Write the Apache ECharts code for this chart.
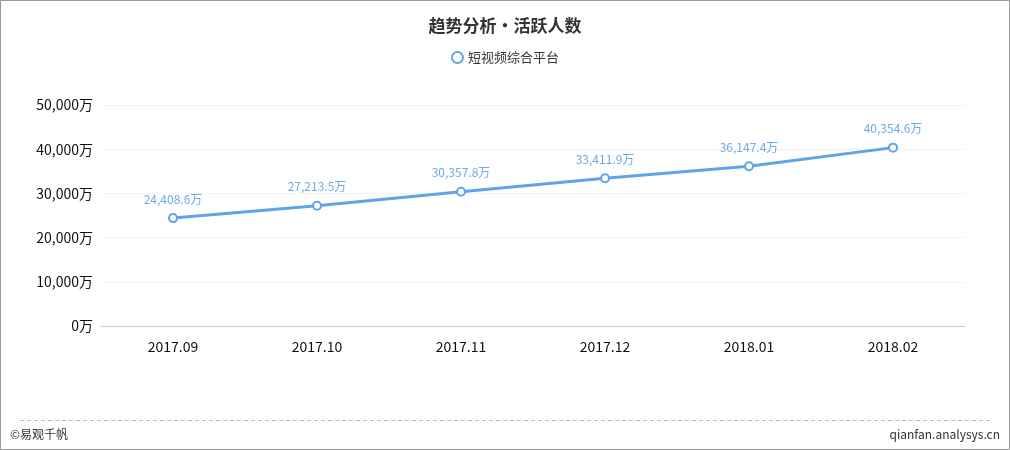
<!DOCTYPE html>
<html>
<head>
<meta charset="utf-8">
<script src="https://cdn.jsdelivr.net/npm/echarts@6/dist/echarts.min.js"></script>
<style>
  html, body { margin: 0; padding: 0; background: #fff; }
  #chart { width: 1010px; height: 450px; }
</style>
</head>
<body>
<div id="chart"></div>
<script>
  // data
  var months = ['2017.09', '2017.10', '2017.11', '2017.12', '2018.01', '2018.02'];
  var activeUsers = [24408.6, 27213.5, 30357.8, 33411.9, 36147.4, 40354.6];
  var seriesName = '短视频综合平台';

  var font = '"Noto Sans CJK SC", "Microsoft YaHei", sans-serif';
  function fmt(v) {
    return v.toLocaleString('en-US', {maximumFractionDigits: 1}) + '万';
  }

  var chart = echarts.init(document.getElementById('chart'));
  chart.setOption({
    backgroundColor: '#fff',
    textStyle: {fontFamily: font},
    title: {
      text: '趋势分析・活跃人数',
      left: 'center',
      top: 12,
      textStyle: {fontSize: 17, fontWeight: 'bold', color: '#333', fontFamily: font}
    },
    legend: {
      top: 46,
      left: 'center',
      icon: 'circle',
      itemWidth: 11,
      itemHeight: 11,
      itemGap: 6,
      textStyle: {fontSize: 13, color: '#333', fontFamily: font},
      data: [{name: seriesName, icon: 'emptyCircle'}]
    },
    grid: {left: 101, right: 45, top: 105, bottom: 124},
    xAxis: {
      type: 'category',
      data: months,
      boundaryGap: true,
      axisLine: {lineStyle: {color: '#ccc'}},
      axisTick: {lineStyle: {color: '#ccc'}},
      axisLabel: {color: '#111', fontSize: 14, margin: 14, fontFamily: font}
    },
    yAxis: {
      type: 'value',
      min: 0,
      max: 50000,
      interval: 10000,
      axisLine: {show: false},
      axisTick: {show: false},
      splitLine: {lineStyle: {color: '#f2f2f2'}},
      axisLabel: {
        color: '#111', fontSize: 14, margin: 8, fontFamily: font,
        formatter: function (v) { return fmt(v); }
      }
    },
    series: [{
      name: seriesName,
      type: 'line',
      data: activeUsers,
      symbol: 'emptyCircle',
      symbolSize: 8,
      lineStyle: {width: 3, color: '#62a3e8'},
      itemStyle: {color: '#62a3e8', borderWidth: 2},
      label: {
        show: true,
        position: 'top',
        distance: 8,
        color: '#6eabeb',
        fontSize: 12,
        fontFamily: font,
        formatter: function (p) { return fmt(p.value); }
      }
    }],
    graphic: [
      {
        type: 'rect',
        shape: {x: 0.5, y: 0.5, width: 1009, height: 449},
        style: {fill: null, stroke: '#999', lineWidth: 1},
        silent: true
      },
      {
        type: 'line',
        shape: {x1: 20, y1: 420.5, x2: 990, y2: 420.5},
        style: {stroke: '#bbb', lineWidth: 1, lineDash: [4, 3]},
        silent: true
      },
      {
        type: 'text',
        left: 10,
        top: 428,
        style: {text: '©易观千帆', fill: '#333', font: '12px ' + font}
      },
      {
        type: 'text',
        right: 10,
        top: 428,
        style: {text: 'qianfan.analysys.cn', fill: '#333', font: '12px ' + font}
      }
    ]
  });
</script>
</body>
</html>
